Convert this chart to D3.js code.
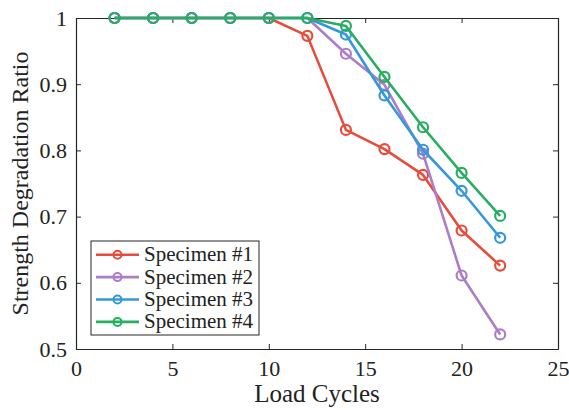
<!DOCTYPE html>
<html lang="en">
  <head>
    <meta charset="UTF-8" />
    <title>Strength Degradation Ratio</title>
    <script src="https://cdnjs.cloudflare.com/ajax/libs/d3/7.8.5/d3.min.js"></script>
    <style>
      body, html { margin: 0; padding: 0; background: #fff; }
      svg { display: block; }
    </style>
  </head>
  <body>
    <svg id="chart" width="569" height="410"></svg>
    <script>
      const cycles = [2, 4, 6, 8, 10, 12, 14, 16, 18, 20, 22];
      const specimen1 = [1, 1, 1, 1, 1, 0.973, 0.831, 0.802, 0.763, 0.679, 0.626];
      const specimen2 = [1, 1, 1, 1, 1, 1, 0.946, 0.899, 0.795, 0.611, 0.522];
      const specimen3 = [1, 1, 1, 1, 1, 1, 0.975, 0.883, 0.801, 0.739, 0.668];
      const specimen4 = [1, 1, 1, 1, 1, 1, 0.988, 0.911, 0.835, 0.766, 0.701];
      const seriesNames = ["Specimen #1", "Specimen #2", "Specimen #3", "Specimen #4"];
      const xTicks = [0, 5, 10, 15, 20, 25];
      const yTicks = [0.5, 0.6, 0.7, 0.8, 0.9, 1];

      const FONT = '"Liberation Serif", "Times New Roman", Times, serif';
      const colors = ["#e74c3c", "#ad7dc8", "#3498db", "#27ae60"];
      const series = [specimen1, specimen2, specimen3, specimen4].map((vals, i) => ({
        name: seriesNames[i],
        color: colors[i],
        points: vals.map((v, j) => ({ x: cycles[j], y: v })),
      }));

      const svg = d3.select("#chart");
      const m = { left: 76, right: 558, top: 18, bottom: 349 };

      const x = d3.scaleLinear().domain([0, 25]).range([m.left, m.right]);
      const y = d3.scaleLinear().domain([0.5, 1]).range([m.bottom, m.top]);

      // box with inward ticks
      const axisColor = "#262626";
      const tickLen = 5;
      const fmtY = (d) => (d === 1 ? "1" : d3.format(".1f")(d));

      const xAxis = svg.append("g")
        .attr("transform", `translate(0,${m.bottom})`)
        .call(d3.axisBottom(x).tickValues(xTicks).tickSizeInner(-tickLen).tickSizeOuter(0).tickPadding(11));
      const yAxis = svg.append("g")
        .attr("transform", `translate(${m.left},0)`)
        .call(d3.axisLeft(y).tickValues(yTicks).tickFormat(fmtY).tickSizeInner(-tickLen).tickSizeOuter(0).tickPadding(9));
      const xTop = svg.append("g")
        .attr("transform", `translate(0,${m.top})`)
        .call(d3.axisTop(x).tickValues(xTicks).tickSizeInner(-tickLen).tickSizeOuter(0).tickFormat(""));
      const yRight = svg.append("g")
        .attr("transform", `translate(${m.right},0)`)
        .call(d3.axisRight(y).tickValues(yTicks).tickSizeInner(-tickLen).tickSizeOuter(0).tickFormat(""));

      [xAxis, yAxis, xTop, yRight].forEach((g) => {
        g.select(".domain").attr("stroke", axisColor).attr("stroke-width", 1.2);
        g.selectAll(".tick line").attr("stroke", axisColor).attr("stroke-width", 1);
        g.selectAll(".tick text")
          .style("font-family", FONT)
          .style("font-size", "22px")
          .attr("fill", "#222");
      });

      // axis titles
      svg.append("text")
        .attr("x", (m.left + m.right) / 2)
        .attr("y", 402)
        .attr("text-anchor", "middle")
        .style("font-family", FONT)
        .style("font-size", "25px")
        .attr("fill", "#222")
        .text("Load Cycles");
      svg.append("text")
        .attr("transform", `translate(28,${(m.top + m.bottom) / 2}) rotate(-90)`)
        .attr("text-anchor", "middle")
        .style("font-family", FONT)
        .style("font-size", "24px")
        .attr("fill", "#222")
        .text("Strength Degradation Ratio");

      // lines
      const line = d3.line().x((d) => x(d.x)).y((d) => y(d.y));
      const plot = svg.append("g");
      series.forEach((s) => {
        plot.append("path")
          .datum(s.points)
          .attr("fill", "none")
          .attr("stroke", s.color)
          .attr("stroke-width", 2.6)
          .attr("stroke-linejoin", "round")
          .attr("d", line);
        plot.selectAll(null)
          .data(s.points)
          .join("circle")
          .attr("cx", (d) => x(d.x))
          .attr("cy", (d) => y(d.y))
          .attr("r", 5)
          .attr("fill", "none")
          .attr("stroke", s.color)
          .attr("stroke-width", 2.2);
      });

      // legend
      const legend = svg.append("g").attr("transform", "translate(91,241)");
      legend.append("rect")
        .attr("width", 168)
        .attr("height", 94)
        .attr("fill", "#fff")
        .attr("stroke", "#262626")
        .attr("stroke-width", 1);
      series.forEach((s, i) => {
        const ly = 13.7 + i * 22.4;
        legend.append("line")
          .attr("x1", 5).attr("x2", 48)
          .attr("y1", ly).attr("y2", ly)
          .attr("stroke", s.color)
          .attr("stroke-width", 2.6);
        legend.append("circle")
          .attr("cx", 26.5).attr("cy", ly)
          .attr("r", 4)
          .attr("fill", "none")
          .attr("stroke", s.color)
          .attr("stroke-width", 2);
        legend.append("text")
          .attr("x", 53)
          .attr("y", ly + 6.5)
          .style("font-family", FONT)
          .style("font-size", "21px")
          .attr("fill", "#222")
          .text(s.name);
      });
    </script>
  </body>
</html>
